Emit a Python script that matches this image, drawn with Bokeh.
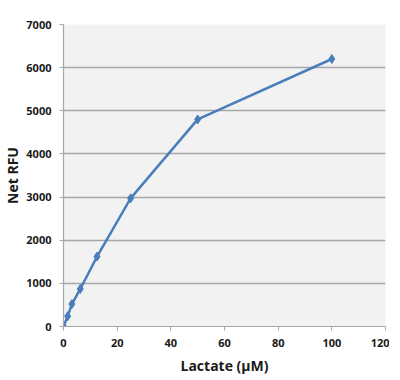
from bokeh.plotting import figure
from bokeh.models import Range1d, FixedTicker
from bokeh.embed import file_html
from bokeh.resources import INLINE

lactate = [0, 1.5625, 3.125, 6.25, 12.5, 25, 50, 100]
net_rfu = [0, 240, 520, 870, 1620, 2970, 4800, 6200]
x_ticks = [0, 20, 40, 60, 80, 100, 120]
y_ticks = [0, 1000, 2000, 3000, 4000, 5000, 6000, 7000]

p = figure(frame_width=322, frame_height=302, output_backend="svg", toolbar_location=None,
           x_range=Range1d(0, 120), y_range=Range1d(0, 7000),
           min_border_left=60, min_border_right=4, min_border_top=24, min_border_bottom=44)
p.outline_line_color = None
p.background_fill_color = "#f2f2f2"
p.border_fill_color = "white"

p.xaxis.ticker = FixedTicker(ticks=x_ticks)
p.yaxis.ticker = FixedTicker(ticks=y_ticks)
p.xgrid.grid_line_color = None
p.ygrid.grid_line_color = "#a6a6a6"
p.ygrid.grid_line_width = 1.5

for ax in (p.xaxis, p.yaxis):
    ax.axis_line_color = "#a6a6a6"
    ax.axis_line_width = 1.2
    ax.major_tick_line_color = "#a6a6a6"
    ax.major_tick_out = 4
    ax.major_tick_in = 0
    ax.minor_tick_line_color = None
    ax.major_label_text_font = "Open Sans"
    ax.major_label_text_font_style = "bold"
    ax.major_label_text_font_size = "11px"
    ax.major_label_text_color = "#1a1a1a"
    ax.axis_label_text_font = "Open Sans"
    ax.axis_label_text_font_style = "bold"
    ax.axis_label_text_font_size = "14px"
    ax.axis_label_text_color = "#1a1a1a"

p.xaxis.axis_label = "Lactate (µM)"
p.yaxis.axis_label = "Net RFU"
p.xaxis.major_label_standoff = 8
p.yaxis.major_label_standoff = 8
p.xaxis.axis_label_standoff = 6
p.yaxis.axis_label_standoff = 1

p.line(lactate, net_rfu, line_color="#4a7ebb", line_width=2.5)
p.scatter(lactate, net_rfu, marker="diamond", size=9, fill_color="#4a7ebb", line_color="#4a7ebb")

open("out.html", "w").write(file_html(p, INLINE))
